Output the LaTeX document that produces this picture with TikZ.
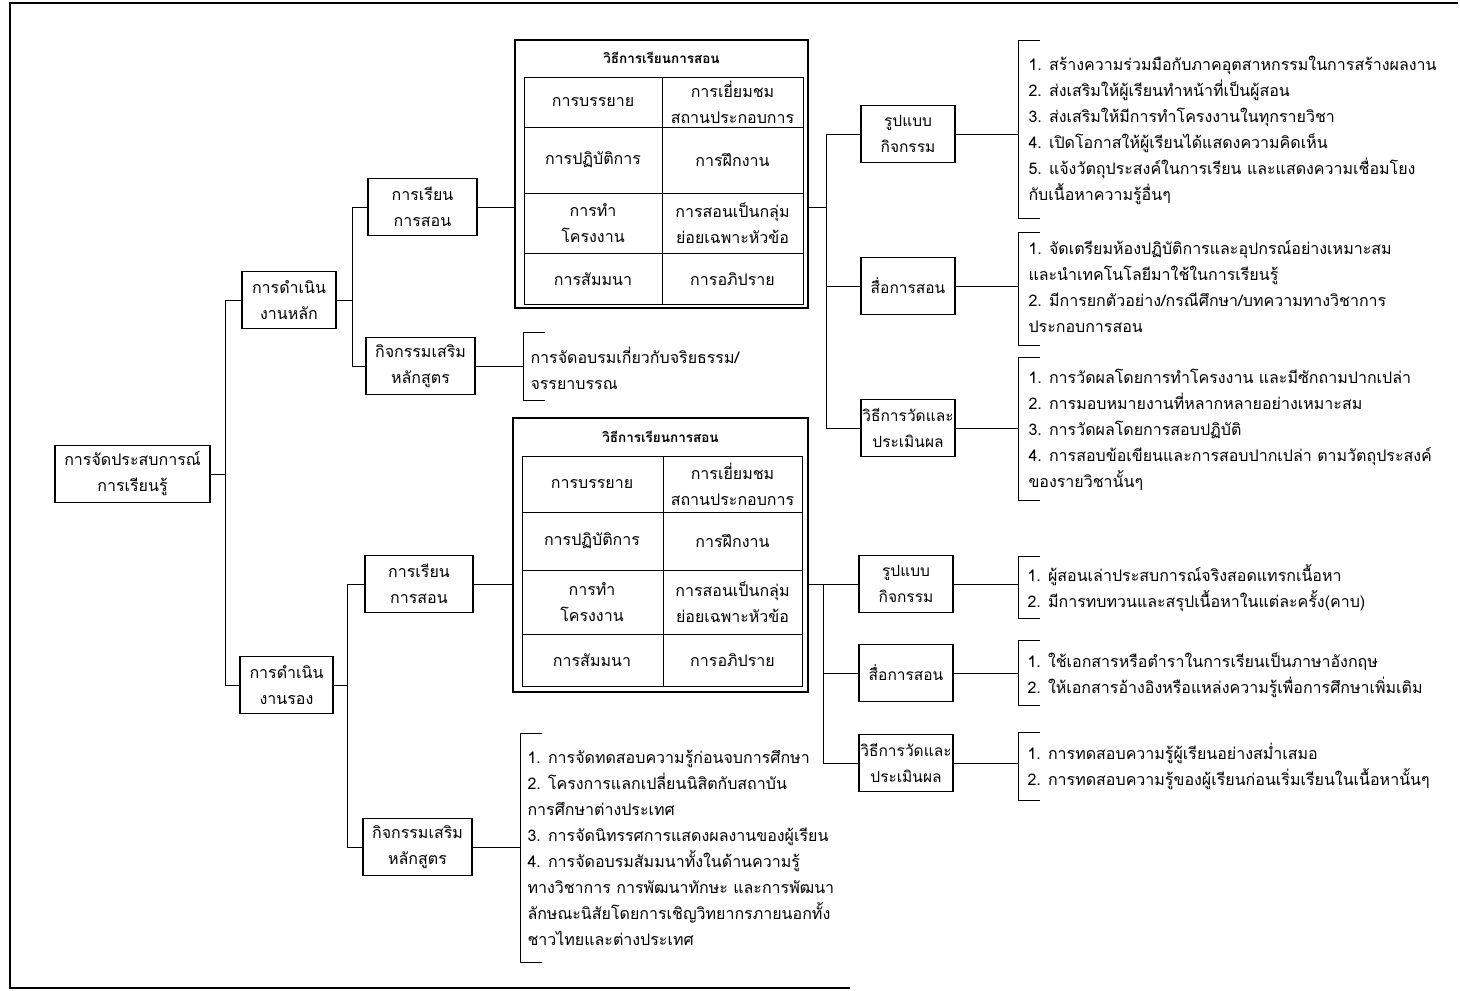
\documentclass[tikz,border=0pt]{standalone}
\usepackage{fontspec}
\newfontfamily\thai[Script=Thai]{Loma}
\begin{document}
\begin{tikzpicture}[x=1pt,y=-1pt,line width=1pt,
  txt/.style={font=\thai\fontsize{16}{26}\selectfont},
  box/.style={txt,draw,line width=1.2pt,align=center,inner sep=0pt,minimum height=57pt},
  rbox/.style={box,minimum width=94pt,font=\thai\fontsize{15.5}{26}\selectfont},
  lst/.style={txt,align=left,anchor=west,inner sep=0pt},
  cell/.style={txt,align=center,inner sep=0pt},
  head/.style={font=\thai\bfseries\fontsize{13.5}{20}\selectfont,inner sep=0pt},
  tabout/.style={draw,line width=1.8pt,inner sep=0pt},
  conn/.style={line width=0.9pt},
  brk/.style={line width=0.9pt}]
\useasboundingbox (0,0) rectangle (1460,991);
% frame
\draw[line width=1.3pt] (1458,3) -- (10,3) -- (10,988) -- (850,988);

% level 0-1
\node[box,minimum width=155pt] (root) at (132.5,474) {การจัดประสบการณ์\\การเรียนรู้};
\node[box,minimum width=94pt] (m1) at (289,300) {การดำเนิน\\งานหลัก};
\node[box,minimum width=93pt] (m2) at (286.5,685) {การดำเนิน\\งานรอง};
\coordinate (t0) at (225,0);
\draw[conn] (root.east) -- (root.east -| t0);
\draw[conn] (m1.west) -- (m1.west -| t0) -- (m2.west -| t0) -- (m2.west);

% level 2
\node[box,minimum width=109pt] (a1) at (422.5,207) {การเรียน\\การสอน};
\node[box,minimum width=109pt] (b1) at (420.5,366) {กิจกรรมเสริม\\หลักสูตร};
\node[box,minimum width=108pt] (a2) at (419,584) {การเรียน\\การสอน};
\node[box,minimum width=109pt] (b2) at (417.5,847) {กิจกรรมเสริม\\หลักสูตร};
\coordinate (t1) at (352,0);
\coordinate (t2) at (347,0);
\draw[conn] (a1.west) -- (a1.west -| t1) -- (b1.west -| t1) -- (b1.west);
\draw[conn] (m1.east) -- (m1.east -| t1);
\draw[conn] (a2.west) -- (a2.west -| t2) -- (b2.west -| t2) -- (b2.west);
\draw[conn] (m2.east) -- (m2.east -| t2);

% table 1
\node[tabout,minimum width=293pt,minimum height=268pt] (T1) at (661.5,174) {};
\node[head] (T1h) at (661.5,58) {วิธีการเรียนการสอน};
\draw (524,77) rectangle (803,304);
\draw (662,77) -- (662,304);
\draw (524,127) -- (803,127) (524,193) -- (803,193) (524,253) -- (803,253);
\node[cell] (c11) at (593,102) {การบรรยาย};
\node[cell] (c12) at (732.5,102) {การเยี่ยมชม\\สถานประกอบการ};
\node[cell] (c21) at (593,160) {การปฏิบัติการ};
\node[cell] (c22) at (732.5,160) {การฝึกงาน};
\node[cell] (c31) at (593,223) {การทำ\\โครงงาน};
\node[cell] (c32) at (732.5,223) {การสอนเป็นกลุ่ม\\ย่อยเฉพาะหัวข้อ};
\node[cell] (c41) at (593,279) {การสัมมนา};
\node[cell] (c42) at (732.5,279) {การอภิปราย};
\draw[conn] (a1.east) -- (a1.east -| T1.west);

% table 2
\node[tabout,minimum width=295pt,minimum height=274pt] (T2) at (660.5,555) {};
\node[head] (T2h) at (660.5,437) {วิธีการเรียนการสอน};
\draw (522,456) rectangle (802,686);
\draw (663,456) -- (663,686);
\draw (522,512) -- (802,512) (522,570) -- (802,570) (522,634) -- (802,634);
\node[cell] (d11) at (592,484) {การบรรยาย};
\node[cell] (d12) at (732.5,484) {การเยี่ยมชม\\สถานประกอบการ};
\node[cell] (d21) at (592,541) {การปฏิบัติการ};
\node[cell] (d22) at (732.5,541) {การฝึกงาน};
\node[cell] (d31) at (592,602) {การทำ\\โครงงาน};
\node[cell] (d32) at (732.5,602) {การสอนเป็นกลุ่ม\\ย่อยเฉพาะหัวข้อ};
\node[cell] (d41) at (592,660) {การสัมมนา};
\node[cell] (d42) at (732.5,660) {การอภิปราย};
\draw[conn] (a2.east) -- (a2.east -| T2.west);

% level 3 upper
\node[rbox] (u1) at (908,134) {รูปแบบ\\กิจกรรม};
\node[rbox] (u2) at (908,286) {สื่อการสอน};
\node[rbox] (u3) at (908,428) {วิธีการวัดและ\\ประเมินผล};
\coordinate (t3) at (826,0);
\draw[conn] (T1.east |- a1.east) -- (a1.east -| t3);
\draw[conn] (u1.west) -- (u1.west -| t3) -- (u3.west -| t3) -- (u3.west);
\draw[conn] (u2.west) -- (u2.west -| t3);

% level 3 lower
\node[rbox] (v1) at (906,584) {รูปแบบ\\กิจกรรม};
\node[rbox] (v2) at (906,673) {สื่อการสอน};
\node[rbox] (v3) at (906,763) {วิธีการวัดและ\\ประเมินผล};
\coordinate (t4) at (823,0);
\draw[conn] (T2.east |- v1.west) -- (v1.west);
\draw[conn] (v1.west -| t4) -- (v3.west -| t4) -- (v3.west);
\draw[conn] (v2.west) -- (v2.west -| t4);

% brackets & lists
\coordinate (bu1) at (1018,134);
\draw[conn] (u1.east) -- (bu1);
\draw[brk] (1040,40) -- (1018,40) -- (1018,218) -- (1040,218);
\node[lst] (lu1) at (1028,130.5) {1. สร้างความร่วมมือกับภาคอุตสาหกรรมในการสร้างผลงาน\\2. ส่งเสริมให้ผู้เรียนทำหน้าที่เป็นผู้สอน\\3. ส่งเสริมให้มีการทำโครงงานในทุกรายวิชา\\4. เปิดโอกาสให้ผู้เรียนได้แสดงความคิดเห็น\\5. แจ้งวัตถุประสงค์ในการเรียน และแสดงความเชื่อมโยง\\กับเนื้อหาความรู้อื่นๆ};

\coordinate (bu2) at (1018,286);
\draw[conn] (u2.east) -- (bu2);
\draw[brk] (1040,232) -- (1018,232) -- (1018,345) -- (1040,345);
\node[lst] (lu2) at (1028,287) {1. จัดเตรียมห้องปฏิบัติการและอุปกรณ์อย่างเหมาะสม\\และนำเทคโนโลยีมาใช้ในการเรียนรู้\\2. มีการยกตัวอย่าง/กรณีศึกษา/บทความทางวิชาการ\\ประกอบการสอน};

\coordinate (bu3) at (1018,428);
\draw[conn] (u3.east) -- (bu3);
\draw[brk] (1040,357) -- (1018,357) -- (1018,500) -- (1040,500);
\node[lst] (lu3) at (1028,430) {1. การวัดผลโดยการทำโครงงาน และมีซักถามปากเปล่า\\2. การมอบหมายงานที่หลากหลายอย่างเหมาะสม\\3. การวัดผลโดยการสอบปฏิบัติ\\4. การสอบข้อเขียนและการสอบปากเปล่า ตามวัตถุประสงค์\\ของรายวิชานั้นๆ};

\coordinate (bb1) at (523,366);
\draw[conn] (b1.east) -- (bb1);
\draw[brk] (545,332) -- (523,332) -- (523,400) -- (545,400);
\node[lst] (lb1) at (530,368) {การจัดอบรมเกี่ยวกับจริยธรรม/\\จรรยาบรรณ};

\coordinate (bv1) at (1018,584);
\draw[conn] (v1.east) -- (bv1);
\draw[brk] (1040,556) -- (1018,556) -- (1018,618) -- (1040,618);
\node[lst] (lv1) at (1027,588) {1. ผู้สอนเล่าประสบการณ์จริงสอดแทรกเนื้อหา\\2. มีการทบทวนและสรุปเนื้อหาในแต่ละครั้ง(คาบ)};

\coordinate (bv2) at (1018,673);
\draw[conn] (v2.east) -- (bv2);
\draw[brk] (1040,640) -- (1018,640) -- (1018,705) -- (1040,705);
\node[lst] (lv2) at (1027,675) {1. ใช้เอกสารหรือตำราในการเรียนเป็นภาษาอังกฤษ\\2. ให้เอกสารอ้างอิงหรือแหล่งความรู้เพื่อการศึกษาเพิ่มเติม};

\coordinate (bv3) at (1018,763);
\draw[conn] (v3.east) -- (bv3);
\draw[brk] (1040,732) -- (1018,732) -- (1018,800) -- (1040,800);
\node[lst] (lv3) at (1027,766) {1. การทดสอบความรู้ผู้เรียนอย่างสม่ำเสมอ\\2. การทดสอบความรู้ของผู้เรียนก่อนเริ่มเรียนในเนื้อหานั้นๆ};

\coordinate (bb2) at (520,847);
\draw[conn] (b2.east) -- (bb2);
\draw[brk] (542,733) -- (520,733) -- (520,962) -- (542,962);
\node[lst] (lb2) at (527,848) {1. การจัดทดสอบความรู้ก่อนจบการศึกษา\\2. โครงการแลกเปลี่ยนนิสิตกับสถาบัน\\การศึกษาต่างประเทศ\\3. การจัดนิทรรศการแสดงผลงานของผู้เรียน\\4. การจัดอบรมสัมมนาทั้งในด้านความรู้\\ทางวิชาการ การพัฒนาทักษะ และการพัฒนา\\ลักษณะนิสัยโดยการเชิญวิทยากรภายนอกทั้ง\\ชาวไทยและต่างประเทศ};
\end{tikzpicture}
\end{document}
